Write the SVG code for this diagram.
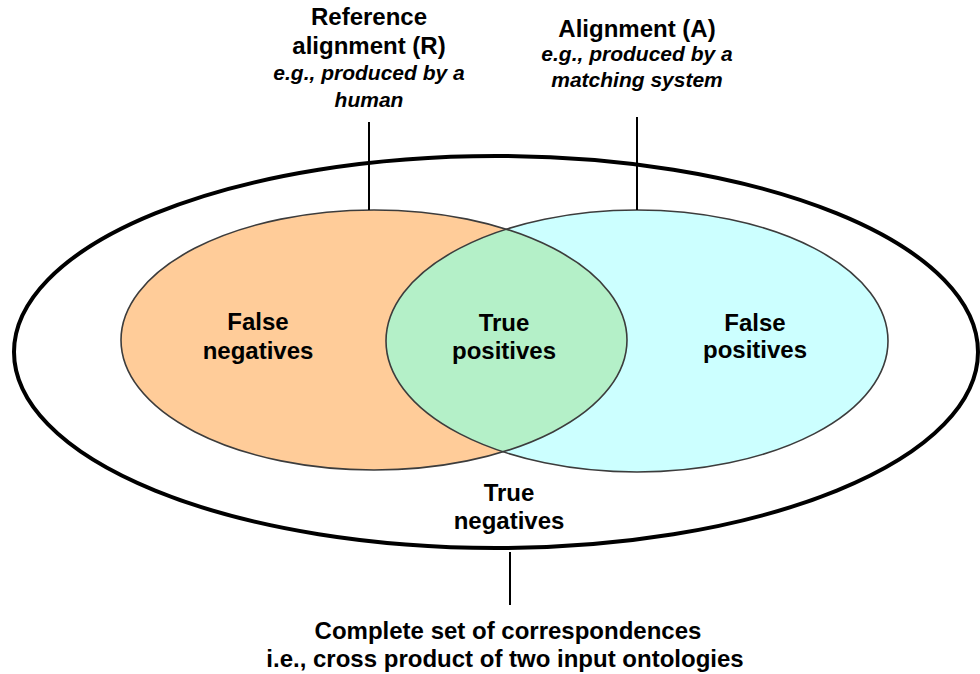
<svg xmlns="http://www.w3.org/2000/svg" width="980" height="674" viewBox="0 0 980 674">
<style>
text{font-family:"Liberation Sans",Arial,sans-serif;font-weight:bold;font-size:24px;fill:#000;text-anchor:middle}
.it{font-style:italic;font-size:21px}
.set{fill:none;stroke:#3c3c3c;stroke-width:1.6}
.conn{stroke:#000;stroke-width:2;fill:none}
</style>
<defs>
<clipPath id="clipR"><ellipse cx="374" cy="340" rx="253" ry="130"/></clipPath>
</defs>
<rect width="980" height="674" fill="#fff"/>
<g id="universe">
<ellipse cx="496" cy="352" rx="482" ry="196" fill="#fff" stroke="#000" stroke-width="4"/>
<text x="509" y="501">True</text>
<text x="509" y="529">negatives</text>
</g>
<g id="reference">
<ellipse cx="374" cy="340" rx="253" ry="130" fill="#FFCC99"/>
</g>
<g id="alignment">
<ellipse cx="637" cy="341" rx="251" ry="131" fill="#CCFFFF"/>
</g>
<g id="intersection">
<ellipse cx="637" cy="341" rx="251" ry="131" fill="#B4F0C8" clip-path="url(#clipR)"/>
</g>
<g id="outlines">
<ellipse class="set" cx="374" cy="340" rx="253" ry="130"/>
<ellipse class="set" cx="637" cy="341" rx="251" ry="131"/>
</g>
<g id="fn">
<text x="258" y="330">False</text>
<text x="258" y="359">negatives</text>
</g>
<g id="tp">
<text x="504" y="331">True</text>
<text x="504" y="359">positives</text>
</g>
<g id="fp">
<text x="755" y="331">False</text>
<text x="755" y="358">positives</text>
</g>
<g id="connectors">
<line class="conn" x1="369" y1="122" x2="369" y2="210"/>
<line class="conn" x1="637" y1="117" x2="637" y2="210"/>
<line class="conn" x1="510" y1="552" x2="510" y2="605"/>
</g>
<g id="label-reference">
<text x="369" y="25">Reference</text>
<text x="369" y="54">alignment (R)</text>
<text class="it" x="369" y="80">e.g., produced by a</text>
<text class="it" x="369" y="107">human</text>
</g>
<g id="label-alignment">
<text x="637" y="37">Alignment (A)</text>
<text class="it" x="637" y="61">e.g., produced by a</text>
<text class="it" x="637" y="87">matching system</text>
</g>
<g id="label-universe">
<text x="508" y="639">Complete set of correspondences</text>
<text x="505" y="667">i.e., cross product of two input ontologies</text>
</g>
</svg>
